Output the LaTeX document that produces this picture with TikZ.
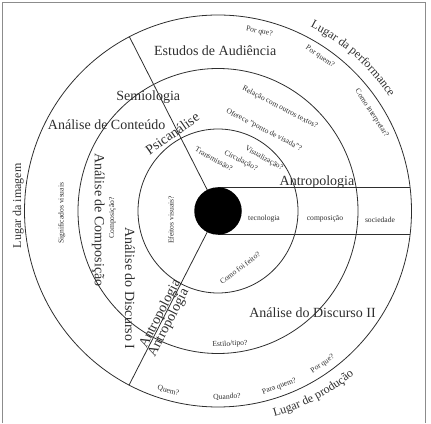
\documentclass[tikz,border=0pt]{standalone}
\usepackage{fontspec}
\setmainfont{Liberation Serif}
\usetikzlibrary{calc,decorations.text}
\definecolor{ink}{gray}{0.18}
\definecolor{framec}{gray}{0.55}
\begin{document}
\begin{tikzpicture}[x=1pt,y=1pt,
  ring/.style={draw=ink,line width=0.8pt},
  conn/.style={draw=ink,line width=0.8pt},
  big/.style={font=\fontsize{14}{16}\selectfont,text=ink,inner sep=0pt},
  mid/.style={font=\fontsize{12}{14}\selectfont,text=ink,inner sep=0pt},
  small/.style={font=\fontsize{7.6}{9}\selectfont,text=ink,inner sep=0pt}]
\useasboundingbox (0,0) rectangle (431,423);
% frame
\draw[framec,line width=1pt] (2.5,0) -- (2.5,420) -- (425,420) -- (425,0);
% rings
\coordinate (C) at (218,212);
\draw[ring] (C) ellipse [x radius=193.5pt, y radius=196pt];
\draw[ring] (C) ellipse [x radius=140pt, y radius=142.5pt];
\draw[ring] (C) ellipse [x radius=80pt, y radius=82pt];
% connectors
\coordinate (up) at (129.4,386.2);
\coordinate (lo) at (129.1,38);
\coordinate (bt1) at (218,235.6);
\coordinate (bt2) at (410.1,235.6);
\coordinate (bb1) at (218,188.2);
\coordinate (bb2) at (410.1,188.2);
\draw[conn] (C) -- (up);
\draw[conn] (C) -- (lo);
\draw[conn] (bt1) -- (bt2);
\draw[conn] (bb1) -- (bb2);
\node (hub) [circle, fill=black, minimum size=47.5pt, inner sep=0pt] at (C) {};
% big labels
\node[big] (estudos) at (215.2,372.3) {Estudos de Audiência};
\node[big] (semio) at (148.3,326.3) {Semiologia};
\node[big] (conteudo) at (106.7,298) {Análise de Conteúdo};
\node[big, rotate=35] (psican) at (172.3,289.7) {Psicanálise};
\node[big, anchor=base] (antroR) at (317,237.8) {Antropologia};
\node[big, rotate=-90] (compos) at (98.3,203) {Análise de Composição};
\node[big, rotate=-90] (discI) at (130,134.5) {Análise do Discurso I};
\node[big] (discII) at (312.5,110) {Análise do Discurso II};
\node[big, rotate=62.9, anchor=base] (antroA) at ($(hub.center)+(242.9:118)+(152.9:1)$) {Antropologia};
\node[big, rotate=62.9, anchor=north] (antroB) at ($(hub.center)+(242.9:122)+(152.9:-0.6)$) {Antropologia};
% medium labels
\node[mid, rotate=90] (imagem) at (18.3,217.2) {Lugar da imagem};
\path[decorate, decoration={text along path, text align=center,
  text={|\fontsize{12}{14}\selectfont\color{ink}|Lugar da performance}}]
  ($(C)+(80:206)$) arc[start angle=80, end angle=17, radius=206pt];
\path[decorate, decoration={text along path, text align=center,
  text={|\fontsize{12}{14}\selectfont\color{ink}|Lugar de produção}}]
  ($(C)+(-100:213)$) arc[start angle=-100, end angle=-25, radius=213pt];
% small labels
\node[small, rotate=90] (signif) at (61.7,209.7) {Significados visuais};
\node[small, rotate=90] (compq) at (112.3,205) {Composição?};
\node[small, rotate=90] (efeitos) at (171,203) {Efeitos visuais?};
\node[small, rotate=-29.5] (transm) at (214,264) {Transmissão?};
\node[small, rotate=-27.6] (circul) at (240.8,262.2) {Circulação?};
\node[small, rotate=-29.5] (visual) at (264,264.5) {Visualização?};
\node[small, rotate=-27] (oferece) at (264,293) {Oferece "ponto de visada"?};
\node[small, rotate=-27.5] (relacao) at (280,315.5) {Relação com outros textos?};
\node[small] (tecno) at (264,204.5) {tecnologia};
\node[small] (compo) at (325,204.5) {composição};
\node[small] (socie) at (380,203.5) {sociedade};
\node[small, rotate=37] (comofoi) at (240,155) {Como foi feito?};
\node[small, rotate=3] (estilo) at (230,79) {Estilo/tipo?};
\node[small, rotate=-15.5] (quem) at (168.3,32) {Quem?};
\node[small, rotate=3] (quando) at (227,26) {Quando?};
\node[small, rotate=20] (paraquem) at (279.3,36.3) {Para quem?};
\node[small, rotate=35] (porqueB) at (322.7,58.7) {Por que?};
\node[small, rotate=-12] (porqueT) at (259.3,391.3) {Por que?};
\node[small, rotate=-34] (porquem) at (320,366.3) {Por quem?};
\node[small, rotate=-57] (interp) at (371.7,309.7) {Como interpretar?};
\end{tikzpicture}
\end{document}
